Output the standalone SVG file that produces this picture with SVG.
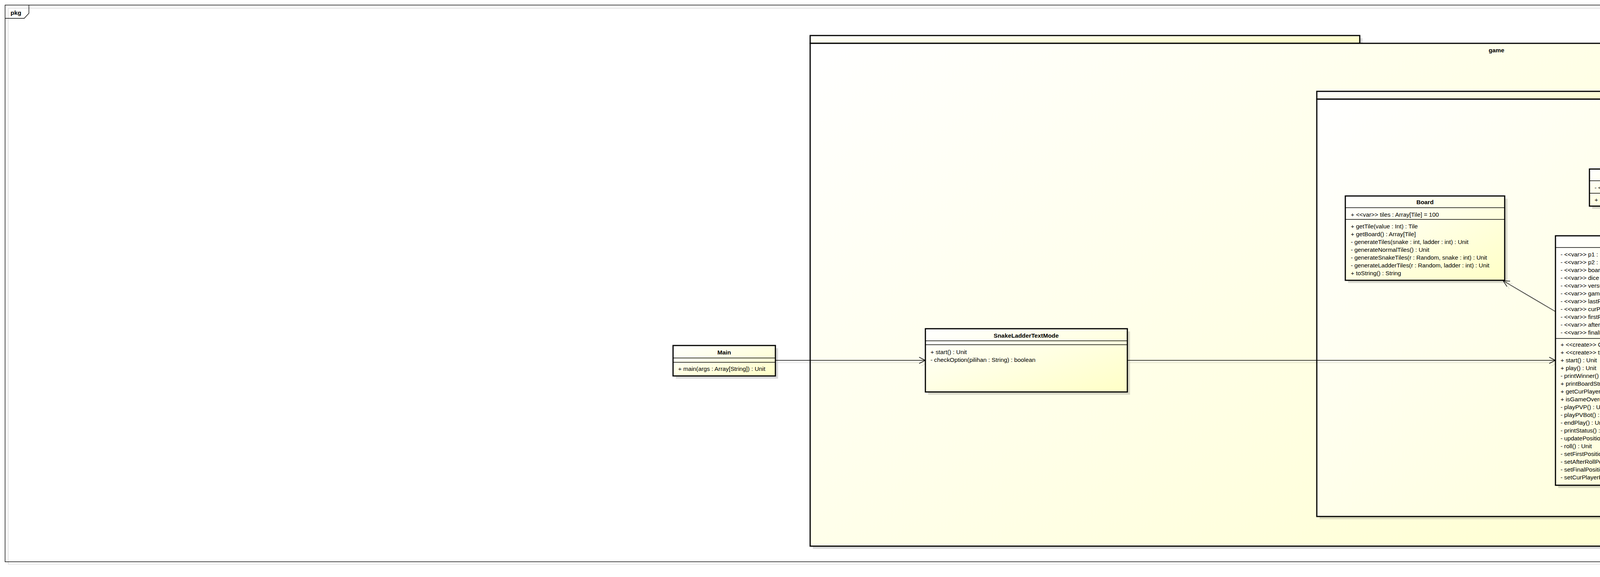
<svg xmlns="http://www.w3.org/2000/svg" width="5621" height="1478" viewBox="0 0 5621 1478">
<defs>
<style>
.t{font-family:"Liberation Sans",Arial,sans-serif;font-size:15.3px;fill:#000}
.n{font-weight:bold;text-anchor:middle}
.box{stroke:#000;stroke-width:3;fill:url(#g)}
.pk{stroke:#000;stroke-width:3;fill:url(#gp)}
.dv{stroke:#000;stroke-width:1.3}
.sh{fill:#000;opacity:0.14}
.c{stroke:#000;stroke-width:1.4;fill:none}
</style>
<linearGradient id="g" x1="0" y1="0" x2="1" y2="1">
<stop offset="0" stop-color="#FFFFFF"/>
<stop offset="1" stop-color="#FFFFC6"/>
</linearGradient>
<linearGradient id="gp" x1="0" y1="0" x2="1" y2="0.5">
<stop offset="0" stop-color="#FFFFFF"/>
<stop offset="1" stop-color="#FFFFCC"/>
</linearGradient>
<marker id="open" markerUnits="userSpaceOnUse" markerWidth="20" markerHeight="20" refX="16" refY="8" orient="auto" overflow="visible">
<path d="M0,0 L16,8 L0,16" fill="none" stroke="#000" stroke-width="1.4"/>
</marker>
<marker id="tri" markerUnits="userSpaceOnUse" markerWidth="20" markerHeight="22" refX="14" refY="9" orient="auto" overflow="visible">
<path d="M0,0 L14,9 L0,18 Z" fill="#fff" stroke="#000" stroke-width="1.4"/>
</marker>
</defs>
<rect x="0" y="0" width="5621" height="1478" fill="#fff"/>

<g id="frame">
<rect x="13" y="13" width="5596" height="1426" fill="#fff"/>
<rect x="21" y="21" width="5594" height="1424" fill="none" stroke="#d9d9d9" stroke-width="1.5"/>
<rect x="13" y="13" width="5596" height="1426" fill="none" stroke="#000" stroke-width="1.4"/>
<polyline points="13,47 62,47 74,34 74,13" fill="none" stroke="#000" stroke-width="1.4"/>
<text class="t" x="27" y="38" style="font-weight:bold;font-size:15.5px">pkg</text>
</g>

<g id="pkg-game">
<rect class="sh" x="2081" y="98" width="1407" height="20"/>
<rect class="sh" x="2081" y="118" width="3514" height="1288"/>
<rect class="pk" x="2074" y="91" width="1407" height="20"/>
<rect class="pk" x="2074" y="111" width="3514" height="1288"/>
<text class="t n" x="3831" y="134">game</text>
</g>

<g id="pkg-game-comp">
<rect class="sh" x="3378" y="241" width="880" height="20"/>
<rect class="sh" x="3378" y="261" width="2197" height="1069"/>
<rect class="pk" x="3371" y="234" width="880" height="20"/>
<rect class="pk" x="3371" y="254" width="2197" height="1069"/>
<text class="t n" x="4470" y="277">game.comp</text>
</g>

<g id="connector-shadows" transform="translate(6,6)" opacity="0.12">
<line class="c" x1="1985" y1="923" x2="2369" y2="923" marker-end="url(#open)"/>
<line class="c" x1="2886" y1="923" x2="3982" y2="923" marker-end="url(#open)"/>
<line class="c" x1="3982" y1="798" x2="3848" y2="719" marker-end="url(#open)"/>
<line class="c" x1="4160" y1="604" x2="4160" y2="528" marker-end="url(#open)"/>
<line class="c" x1="4423" y1="690" x2="4518" y2="580" marker-end="url(#open)"/>
<line class="c" x1="4423" y1="848" x2="4564" y2="803" marker-end="url(#open)"/>
<polyline class="c" points="5051,697 4995,697 4872,721" marker-end="url(#tri)"/>
<line class="c" x1="5070" y1="814" x2="4872" y2="781" marker-end="url(#tri)"/>
<line class="c" x1="4750" y1="949" x2="4750" y2="838" marker-end="url(#tri)"/>
</g>

<g id="Main">
<rect class="sh" x="1730" y="892" width="262" height="78"/>
<rect class="box" x="1723" y="885" width="262" height="78"/>
<line class="dv" x1="1723" y1="917" x2="1985" y2="917"/>
<line class="dv" x1="1723" y1="928" x2="1985" y2="928"/>
<text class="t n" x="1854" y="908">Main</text>
<text class="t" x="1736" y="950">+ main(args : Array[String]) : Unit</text>
</g>

<g id="SnakeLadderTextMode">
<rect class="sh" x="2376" y="849" width="517" height="162"/>
<rect class="box" x="2369" y="842" width="517" height="162"/>
<line class="dv" x1="2369" y1="873" x2="2886" y2="873"/>
<line class="dv" x1="2369" y1="883" x2="2886" y2="883"/>
<text class="t n" x="2627" y="865">SnakeLadderTextMode</text>
<text class="t" x="2382" y="907">+ start() : Unit</text>
<text class="t" x="2382" y="927">- checkOption(pilihan : String) : boolean</text>
</g>

<g id="Board">
<rect class="sh" x="3451" y="509" width="408" height="216"/>
<rect class="box" x="3444" y="502" width="408" height="216"/>
<line class="dv" x1="3444" y1="532" x2="3852" y2="532"/>
<line class="dv" x1="3444" y1="562" x2="3852" y2="562"/>
<text class="t n" x="3648" y="523">Board</text>
<text class="t" x="3458" y="555">+ &lt;&lt;var&gt;&gt; tiles : Array[Tile] = 100</text>
<text class="t" x="3458" y="585">+ getTile(value : Int) : Tile</text>
<text class="t" x="3458" y="605">+ getBoard() : Array[Tile]</text>
<text class="t" x="3458" y="625">- generateTiles(snake : int, ladder : int) : Unit</text>
<text class="t" x="3458" y="645">- generateNormalTiles() : Unit</text>
<text class="t" x="3458" y="665">- generateSnakeTiles(r : Random, snake : int) : Unit</text>
<text class="t" x="3458" y="685">- generateLadderTiles(r : Random, ladder : int) : Unit</text>
<text class="t" x="3458" y="705">+ toString() : String</text>
</g>

<g id="Dice">
<rect class="sh" x="4076" y="440" width="181" height="95"/>
<rect class="box" x="4069" y="433" width="181" height="95"/>
<line class="dv" x1="4069" y1="463" x2="4250" y2="463"/>
<line class="dv" x1="4069" y1="495" x2="4250" y2="495"/>
<text class="t n" x="4159" y="454">Dice</text>
<text class="t" x="4082" y="486">- &lt;&lt;var&gt;&gt; r : Random</text>
<text class="t" x="4082" y="517">+ roll() : int</text>
</g>

<g id="Player">
<rect class="sh" x="4502" y="409" width="238" height="178"/>
<rect class="box" x="4495" y="402" width="238" height="178"/>
<line class="dv" x1="4495" y1="433" x2="4733" y2="433"/>
<line class="dv" x1="4495" y1="484" x2="4733" y2="484"/>
<text class="t n" x="4614" y="424">Player</text>
<text class="t" x="4509" y="456"># &lt;&lt;var&gt;&gt; name : String</text>
<text class="t" x="4509" y="476"># &lt;&lt;var&gt;&gt; position : Tile</text>
<text class="t" x="4509" y="507">+ setPosition(tile : Tile) : Unit</text>
<text class="t" x="4509" y="527">+ getPosition() : int</text>
<text class="t" x="4509" y="547">+ getName() : String</text>
<text class="t" x="4509" y="567">+ toString() : String</text>
</g>

<g id="Game">
<rect class="sh" x="3989" y="611" width="441" height="639"/>
<rect class="box" x="3982" y="604" width="441" height="639"/>
<line class="dv" x1="3982" y1="634" x2="4423" y2="634"/>
<line class="dv" x1="3982" y1="867" x2="4423" y2="867"/>
<text class="t n" x="4202" y="625">Game</text>
<text class="t" x="3995" y="657">- &lt;&lt;var&gt;&gt; p1 : Player</text>
<text class="t" x="3995" y="677">- &lt;&lt;var&gt;&gt; p2 : Player</text>
<text class="t" x="3995" y="697">- &lt;&lt;var&gt;&gt; board : Board</text>
<text class="t" x="3995" y="717">- &lt;&lt;var&gt;&gt; dice : Dice</text>
<text class="t" x="3995" y="737">- &lt;&lt;var&gt;&gt; versusComputer : boolean</text>
<text class="t" x="3995" y="757">- &lt;&lt;var&gt;&gt; gameOver : boolean</text>
<text class="t" x="3995" y="777">- &lt;&lt;var&gt;&gt; lastRoll : int</text>
<text class="t" x="3995" y="797">- &lt;&lt;var&gt;&gt; curPlayer : Player</text>
<text class="t" x="3995" y="817">- &lt;&lt;var&gt;&gt; firstRoll : int</text>
<text class="t" x="3995" y="837">- &lt;&lt;var&gt;&gt; afterRollPosition : int</text>
<text class="t" x="3995" y="857">- &lt;&lt;var&gt;&gt; finalPosition : int</text>
<text class="t" x="3995" y="888">+ &lt;&lt;create&gt;&gt; Game(newp1 : String, newp2 : String) : Unit</text>
<text class="t" x="3995" y="908">+ &lt;&lt;create&gt;&gt; this(newp1 : String) : Unit</text>
<text class="t" x="3995" y="928">+ start() : Unit</text>
<text class="t" x="3995" y="948">+ play() : Unit</text>
<text class="t" x="3995" y="968">- printWinner() : Unit</text>
<text class="t" x="3995" y="988">+ printBoardString() : Unit</text>
<text class="t" x="3995" y="1008">+ getCurPlayer() : Player</text>
<text class="t" x="3995" y="1028">+ isGameOver() : boolean</text>
<text class="t" x="3995" y="1048">- playPVP() : Unit</text>
<text class="t" x="3995" y="1068">- playPVBot() : Unit</text>
<text class="t" x="3995" y="1088">- endPlay() : Unit</text>
<text class="t" x="3995" y="1108">- printStatus() : Unit</text>
<text class="t" x="3995" y="1128">- updatePosition() : Unit</text>
<text class="t" x="3995" y="1148">- roll() : Unit</text>
<text class="t" x="3995" y="1168">- setFirstPosition() : Unit</text>
<text class="t" x="3995" y="1188">- setAfterRollPosition() : Unit</text>
<text class="t" x="3995" y="1208">- setFinalPosition() : Unit</text>
<text class="t" x="3995" y="1228">- setCurPlayerPosition() : Unit</text>
</g>

<g id="Tile">
<rect class="sh" x="4571" y="669" width="308" height="176"/>
<rect class="box" x="4564" y="662" width="308" height="176"/>
<line class="dv" x1="4564" y1="692" x2="4872" y2="692"/>
<line class="dv" x1="4564" y1="743" x2="4872" y2="743"/>
<text class="t n" x="4718" y="683" font-style="italic">Tile</text>
<text class="t" x="4578" y="714"># &lt;&lt;var&gt;&gt; value : int</text>
<text class="t" x="4578" y="734"># &lt;&lt;var&gt;&gt; target : Tile</text>
<text class="t" x="4578" y="765">+ &lt;&lt;create&gt;&gt; Tile(newValue : int) : Unit</text>
<text class="t" x="4578" y="785">+ getValue() : int</text>
<text class="t" x="4578" y="805">+ getTarget() : int</text>
<text class="t" x="4578" y="825">+ toString() : String</text>
</g>

<g id="TileNormal">
<rect class="sh" x="5058" y="669" width="362" height="75"/>
<rect class="box" x="5051" y="662" width="362" height="75"/>
<line class="dv" x1="5051" y1="692" x2="5413" y2="692"/>
<line class="dv" x1="5051" y1="702" x2="5413" y2="702"/>
<text class="t n" x="5232" y="684">TileNormal</text>
<text class="t" x="5064" y="725">+ &lt;&lt;create&gt;&gt; TileNormal(newValue : int) : Unit</text>
</g>

<g id="TileSnake">
<rect class="sh" x="5058" y="821" width="478" height="75"/>
<rect class="box" x="5051" y="814" width="478" height="75"/>
<line class="dv" x1="5051" y1="846" x2="5529" y2="846"/>
<line class="dv" x1="5051" y1="855" x2="5529" y2="855"/>
<text class="t n" x="5290" y="838">TileSnake</text>
<text class="t" x="5064" y="879">+ &lt;&lt;create&gt;&gt; TileSnake(newValue : int, newTarget : Tile) : Unit</text>
</g>

<g id="TileLadder">
<rect class="sh" x="4515" y="956" width="482" height="77"/>
<rect class="box" x="4508" y="949" width="482" height="77"/>
<line class="dv" x1="4508" y1="981" x2="4990" y2="981"/>
<line class="dv" x1="4508" y1="991" x2="4990" y2="991"/>
<text class="t n" x="4749" y="971">TileLadder</text>
<text class="t" x="4523" y="1013">+ &lt;&lt;create&gt;&gt; TileLadder(newValue : int, newTarget : Tile) : Unit</text>
</g>

<g id="connectors">
<line class="c" x1="1985" y1="923" x2="2369" y2="923" marker-end="url(#open)"/>
<line class="c" x1="2886" y1="923" x2="3982" y2="923" marker-end="url(#open)"/>
<line class="c" x1="3982" y1="798" x2="3848" y2="719" marker-end="url(#open)"/>
<line class="c" x1="4160" y1="604" x2="4160" y2="528" marker-end="url(#open)"/>
<line class="c" x1="4423" y1="690" x2="4518" y2="580" marker-end="url(#open)"/>
<line class="c" x1="4423" y1="848" x2="4564" y2="803" marker-end="url(#open)"/>
<polyline class="c" points="5051,697 4995,697 4872,721" marker-end="url(#tri)"/>
<line class="c" x1="5070" y1="814" x2="4872" y2="781" marker-end="url(#tri)"/>
<line class="c" x1="4750" y1="949" x2="4750" y2="838" marker-end="url(#tri)"/>
</g>

<g id="watermark">
<text x="5601" y="1470" text-anchor="end" style="font-family:'Liberation Sans',Arial,sans-serif;font-size:14.5px;font-weight:bold;fill:#b4b4b4">powered by Astah</text>
<rect x="5603" y="1457" width="13" height="15" fill="#f2c38f"/>
</g>
</svg>
